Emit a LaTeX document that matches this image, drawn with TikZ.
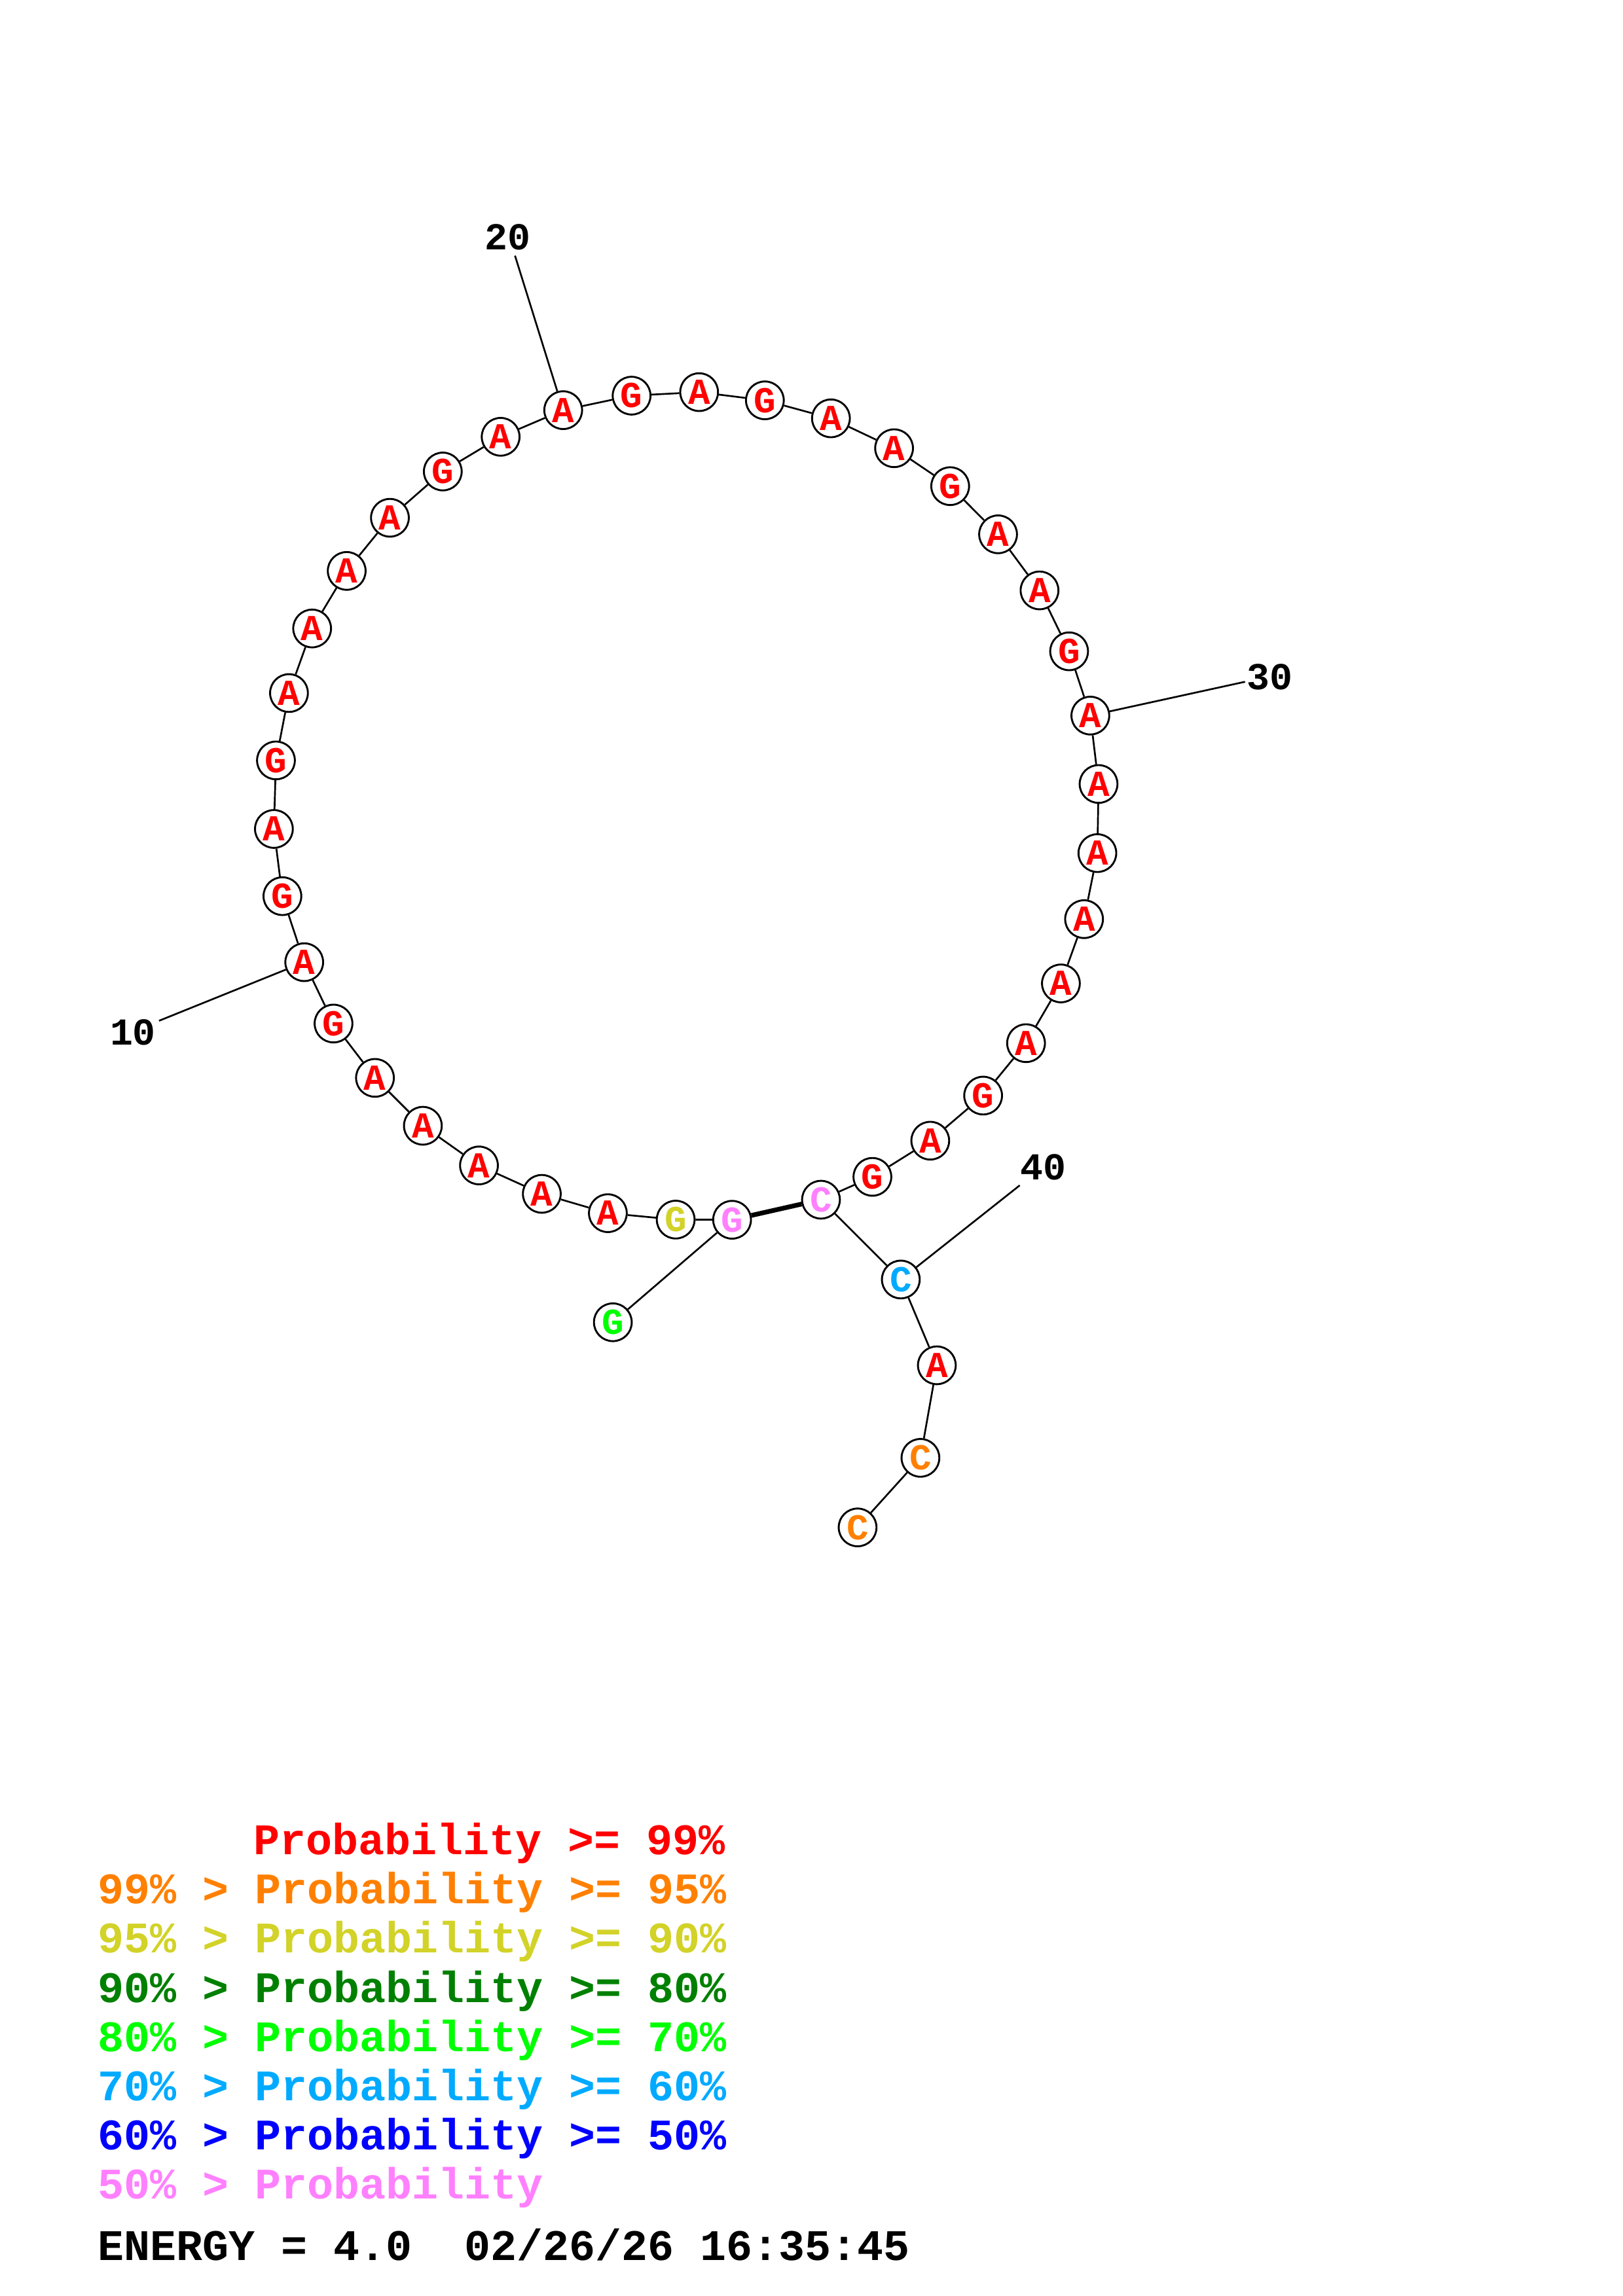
\documentclass[tikz,border=0pt]{standalone}
\usepackage{fontspec}
\newfontfamily\cour{Liberation Mono}
\definecolor{pRed}{RGB}{255,0,0}
\definecolor{pOrange}{RGB}{255,128,0}
\definecolor{pYellow}{RGB}{210,210,40}
\definecolor{pDkGreen}{RGB}{0,128,0}
\definecolor{pGreen}{RGB}{0,255,0}
\definecolor{pSky}{RGB}{0,170,255}
\definecolor{pBlue}{RGB}{0,0,255}
\definecolor{pPink}{RGB}{255,128,255}
\tikzset{
  nt/.style={circle, draw=black, line width=0.65pt, fill=white, minimum size=12.9pt, inner sep=0pt,
    font={\cour\bfseries\fontsize{12.5}{12.5}\selectfont}},
  bb/.style={line width=0.6pt, black},
  pairbond/.style={line width=1.6pt, black},
  numlab/.style={anchor=base, inner sep=0pt, font={\cour\bfseries\fontsize{13}{13}\selectfont}},
  leg/.style={anchor=base west, inner sep=0pt, font={\cour\bfseries\fontsize{14.9}{14.9}\selectfont}}
}
\begin{document}
\begin{tikzpicture}[x={(0.5pt,0)}, y={(0,-0.5pt)}]
\useasboundingbox (0,0) rectangle (1108,1568);
% nucleotides
\foreach \n/\px/\py/\b/\c in {
 1/418.4/903.0/G/pGreen, 2/499.8/833.0/G/pPink, 3/461.3/832.9/G/pYellow,
 4/415.0/828.5/A/pRed, 5/369.9/815.3/A/pRed, 6/327.0/795.9/A/pRed,
 7/288.7/768.8/A/pRed, 8/256.0/736.1/A/pRed, 9/227.7/699.0/G/pRed,
 10/207.7/657.1/A/pRed, 11/192.8/612.0/G/pRed, 12/187.0/566.1/A/pRed,
 13/188.4/519.3/G/pRed, 14/197.3/473.3/A/pRed, 15/213.1/429.2/A/pRed,
 16/236.7/389.9/A/pRed, 17/266.2/353.6/A/pRed, 18/302.3/322.0/G/pRed,
 19/341.8/298.3/A/pRed, 20/384.5/280.1/A/pRed, 21/431.2/270.2/G/pRed,
 22/477.3/267.8/A/pRed, 23/522.2/273.4/G/pRed, 24/567.3/285.7/A/pRed,
 25/610.4/306.1/A/pRed, 26/648.7/332.0/G/pRed, 27/681.4/364.9/A/pRed,
 28/709.7/403.2/A/pRed, 29/729.9/444.8/G/pRed, 30/744.4/488.7/A/pRed,
 31/750.0/535.4/A/pRed, 32/749.2/582.6/A/pRed, 33/740.1/627.7/A/pRed,
 34/724.3/671.6/A/pRed, 35/700.5/712.4/A/pRed, 36/671.2/748.2/G/pRed,
 37/635.1/779.0/A/pRed, 38/595.6/803.7/G/pRed, 39/560.5/819.3/C/pPink,
 40/615.0/873.8/C/pSky, 41/639.6/932.4/A/pRed, 42/628.4/995.6/C/pOrange,
 43/585.5/1043.1/C/pOrange}
 { \node[nt, text=\c] (n\n) at (\px,\py) {\b}; }
% backbone
\foreach \i in {1,...,42} {
  \pgfmathtruncatemacro\j{\i+1}
  \draw[bb] (n\i) -- (n\j);
}
% base pair
\draw[pairbond] (n2) -- (n39);
% numbering ticks
\coordinate (t10) at (108.6,697.1);
\coordinate (t20) at (351.6,174.6);
\coordinate (t30) at (850.0,465.6);
\coordinate (t40) at (696.2,809.5);
\draw[bb] (n10) -- (t10);
\draw[bb] (n20) -- (t20);
\draw[bb] (n30) -- (t30);
\draw[bb] (n40) -- (t40);
\node[numlab] (l10) at (90.7,713.7) {10};
\node[numlab] (l20) at (346.8,170.3) {20};
\node[numlab] (l30) at (867.0,470.7) {30};
\node[numlab] (l40) at (712.3,805.5) {40};
% legend
\node[leg, text=pRed]     (g1) at (173.0,1266.5) {Probability >= 99\%};
\node[leg, text=pOrange]  (g2) at (66.5,1300.1) {99\% > Probability >= 95\%};
\node[leg, text=pYellow]  (g3) at (66.5,1333.7) {95\% > Probability >= 90\%};
\node[leg, text=pDkGreen] (g4) at (66.5,1367.3) {90\% > Probability >= 80\%};
\node[leg, text=pGreen]   (g5) at (66.5,1400.9) {80\% > Probability >= 70\%};
\node[leg, text=pSky]     (g6) at (66.5,1434.5) {70\% > Probability >= 60\%};
\node[leg, text=pBlue]    (g7) at (66.5,1468.1) {60\% > Probability >= 50\%};
\node[leg, text=pPink]    (g8) at (66.5,1501.7) {50\% > Probability};
\node[leg, text=black]    (en) at (66.5,1543.6) {ENERGY = 4.0\ \ 02/26/26 16:35:45};
\end{tikzpicture}
\end{document}
